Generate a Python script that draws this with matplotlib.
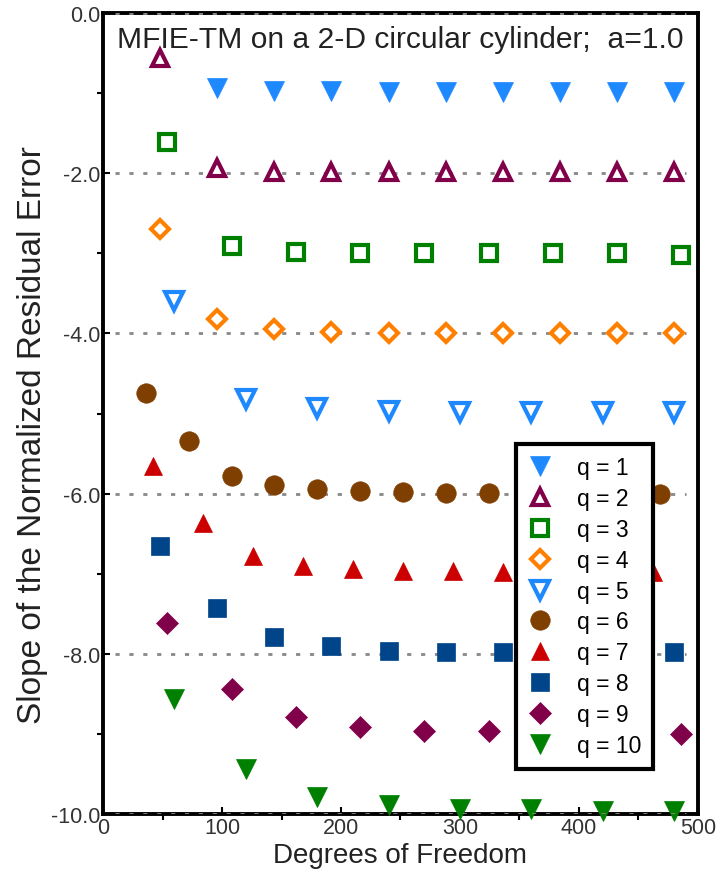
import numpy as np
import matplotlib.pyplot as plt
from matplotlib.ticker import MultipleLocator, FormatStrFormatter

plt.rcParams['font.family'] = ['Liberation Sans', 'DejaVu Sans']

# degrees of freedom sampled for each order q
dof_q1 = [96, 144, 192, 240, 288, 336, 384, 432, 480]
dof_q2 = [48, 96, 144, 192, 240, 288, 336, 384, 432, 480]
dof_q3 = [54, 108, 162, 216, 270, 324, 378, 432, 486]
dof_q4 = [48, 96, 144, 192, 240, 288, 336, 384, 432, 480]
dof_q5 = [60, 120, 180, 240, 300, 360, 420, 480]
dof_q6 = [36, 72, 108, 144, 180, 216, 252, 288, 324, 360, 396, 432, 468]
dof_q7 = [42, 84, 126, 168, 210, 252, 294, 336, 378, 420, 462]
dof_q8 = [48, 96, 144, 192, 240, 288, 336, 384, 432, 480]
dof_q9 = [54, 108, 162, 216, 270, 324, 378, 432, 486]
dof_q10 = [60, 120, 180, 240, 300, 360, 420, 480]

# slope of the normalized residual error
slope_q1 = [-0.93, -0.97, -0.97, -0.98, -0.98, -0.98, -0.98, -0.98, -0.98]
slope_q2 = [-0.56, -1.93, -1.98, -1.99, -1.99, -1.99, -1.99, -1.99, -1.99, -1.99]
slope_q3 = [-1.61, -2.91, -2.98, -2.99, -2.99, -3.0, -3.0, -3.0, -3.02]
slope_q4 = [-2.70, -3.82, -3.95, -3.98, -3.99, -3.99, -3.99, -3.99, -3.99, -3.99]
slope_q5 = [-3.60, -4.82, -4.93, -4.97, -4.98, -4.98, -4.98, -4.98]
slope_q6 = [-4.74, -5.34, -5.78, -5.89, -5.94, -5.97, -5.98, -5.99, -5.99,
            -6.0, -6.0, -6.0, -6.0]
slope_q7 = [-5.66, -6.37, -6.78, -6.90, -6.94, -6.96, -6.97, -6.98, -6.98,
            -6.98, -6.98]
slope_q8 = [-6.65, -7.43, -7.79, -7.90, -7.96, -7.98, -7.98, -7.98, -7.98, -7.98]
slope_q9 = [-7.62, -8.44, -8.79, -8.91, -8.96, -8.96, -8.98, -8.99, -9.0]
slope_q10 = [-8.56, -9.44, -9.79, -9.89, -9.94, -9.94, -9.96, -9.96]

labels = ['q = %d' % q for q in range(1, 11)]

BLUE = '#1E88FF'
MAROON = '#80004A'
GREEN = '#008000'
ORANGE = '#FF8000'
BROWN = '#7F3F00'
RED = '#CC0000'
NAVY = '#00448A'

# (x, y, marker, colour, filled)
series = [
    (dof_q1, slope_q1, 'v', BLUE, True),
    (dof_q2, slope_q2, '^', MAROON, False),
    (dof_q3, slope_q3, 's', GREEN, False),
    (dof_q4, slope_q4, 'D', ORANGE, False),
    (dof_q5, slope_q5, 'v', BLUE, False),
    (dof_q6, slope_q6, 'o', BROWN, True),
    (dof_q7, slope_q7, '^', RED, True),
    (dof_q8, slope_q8, 's', NAVY, True),
    (dof_q9, slope_q9, 'D', MAROON, True),
    (dof_q10, slope_q10, 'v', GREEN, True),
]
sizes = {'v': 14, '^': 13, 's': 13, 'D': 11, 'o': 14}

fig = plt.figure(figsize=(7.26, 8.79), dpi=100)
ax = fig.add_axes([0.1419, 0.0728, 0.8195, 0.9112])

for yref in [0, -2, -4, -6, -8, -10]:
    ax.axhline(yref, xmin=0.02, xmax=0.98, color='#888888', lw=2,
               linestyle=(0, (1.5, 3.5)), zorder=1 if yref not in (0, -10) else 5)

for (x, y, m, c, filled), lab in zip(series, labels):
    ms = sizes[m]
    if filled:
        ax.plot(x, y, linestyle='none', marker=m, ms=ms, color=c, mec=c,
                mew=0.5, label=lab, clip_on=False, zorder=3)
    else:
        ax.plot(x, y, linestyle='none', marker=m, ms=ms - 1.5, mfc='white', mec=c,
                mew=3, label=lab, clip_on=False, zorder=3)

ax.set_xlim(0, 500)
ax.set_ylim(-10, 0)
ax.xaxis.set_major_locator(MultipleLocator(100))
ax.xaxis.set_minor_locator(MultipleLocator(50))
ax.yaxis.set_major_locator(MultipleLocator(2))
ax.yaxis.set_minor_locator(MultipleLocator(1))
ax.yaxis.set_major_formatter(FormatStrFormatter('%.1f'))

for s in ax.spines.values():
    s.set_linewidth(2.8)
ax.tick_params(which='major', direction='in', length=5, width=1.5,
               labelsize=15.5, labelcolor='#333333', pad=2)
ax.tick_params(which='minor', direction='out', length=4, width=1.5)

ax.set_xlabel('Degrees of Freedom', fontsize=20, color='#222222', labelpad=3)
ax.set_ylabel('Slope of the Normalized Residual Error', fontsize=24,
              color='#222222')
ax.yaxis.set_label_coords(-0.092, 0.474)

ax.text(0.5, 0.968, 'MFIE-TM on a 2-D circular cylinder;  a=1.0',
        transform=ax.transAxes, ha='center', va='center', fontsize=21.6,
        color='#222222')

leg = ax.legend(loc='lower left', bbox_to_anchor=(0.694, 0.056, 0.23, 0.406),
                mode='expand', fontsize=16.5, frameon=True, fancybox=False,
                framealpha=1, handlelength=1.0, handletextpad=1.1,
                labelspacing=0.34, borderpad=0.55, borderaxespad=0)
leg.get_frame().set_edgecolor('black')
leg.get_frame().set_linewidth(3)
leg.set_zorder(10)

fig.savefig('out.png', dpi=100)
